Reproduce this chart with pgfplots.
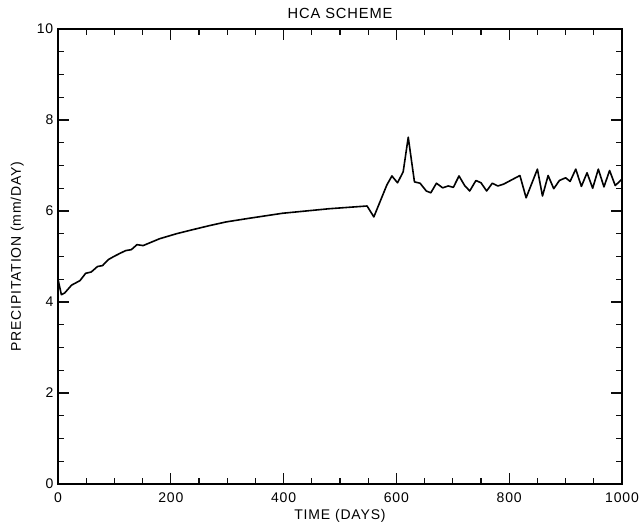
\documentclass[border=0pt]{standalone}
\usepackage{fontspec}
\setmainfont{Liberation Sans}[LetterSpace=6]
\usepackage{pgfplots}
\pgfplotsset{compat=1.18}
\definecolor{tickc}{rgb}{0.05,0.05,0.05}
\begin{document}
\begin{tikzpicture}
\useasboundingbox (-43.5pt,-30.75pt) rectangle (435.75pt,363pt);
\begin{axis}[
  scale only axis,
  width=423pt, height=341.25pt,
  at={(0,0)}, anchor=south west,
  xmin=0, xmax=1000, ymin=0, ymax=10,
  xtick={0,200,...,1000}, ytick={0,2,...,10},
  minor x tick num=3, minor y tick num=3,
  tick align=inside,
  major tick length=8.5pt, minor tick length=4.5pt,
  major tick style={tickc, line width=1pt},
  minor tick style={tickc, line width=1pt},
  axis line style={line width=0.8pt},
  /pgf/number format/assume math mode=true,
  /pgf/number format/1000 sep={},
  ticklabel style={font=\fontsize{10.5}{12}\selectfont},
  xticklabel style={yshift=-3pt},
  title={HCA SCHEME},
  title style={font=\fontsize{11}{13}\selectfont, yshift=-2pt},
  xlabel={TIME (DAYS)},
  xlabel style={font=\fontsize{10.5}{12}\selectfont, yshift=2pt},
  ylabel={PRECIPITATION (mm/DAY)},
  ylabel style={font=\fontsize{10.5}{12}\selectfont, yshift=3pt},
]
\addplot[black, line width=1.2pt, line join=round] coordinates {
(0,4.50) (6,4.16) (12,4.20) (24,4.37) (39,4.47) (49,4.63) (59,4.66)
(70,4.78) (79,4.80) (89,4.93) (99,5.00) (110,5.07) (120,5.13) (130,5.15)
(140,5.26) (151,5.24) (180,5.39) (210,5.50) (239,5.59) (269,5.68)
(298,5.76) (339,5.84) (398,5.95) (481,6.05) (548,6.11) (560,5.87)
(583,6.57) (592,6.77) (602,6.62) (612,6.86) (621,7.62) (632,6.64)
(642,6.61) (653,6.44) (661,6.40) (671,6.61) (682,6.51) (692,6.55)
(701,6.52) (711,6.77) (721,6.56) (730,6.44) (741,6.67) (750,6.62)
(760,6.44) (770,6.61) (780,6.55) (790,6.59) (819,6.78) (830,6.29)
(850,6.92) (859,6.33) (869,6.78) (879,6.49) (889,6.67) (900,6.73)
(908,6.65) (918,6.92) (928,6.54) (938,6.84) (948,6.50) (958,6.92)
(968,6.53) (978,6.89) (988,6.56) (1000,6.70)
};
\end{axis}
\end{tikzpicture}
\end{document}
